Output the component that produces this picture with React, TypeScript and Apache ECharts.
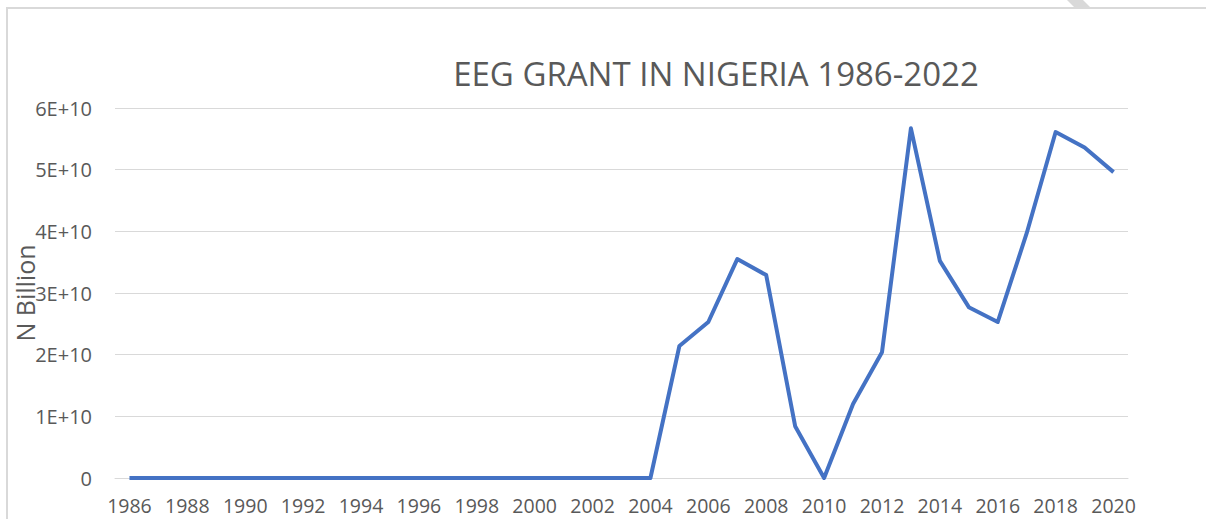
import React, { useEffect, useRef } from "react";
import * as echarts from "echarts";

const years = [
  "1986", "1987", "1988", "1989", "1990", "1991", "1992", "1993", "1994", "1995",
  "1996", "1997", "1998", "1999", "2000", "2001", "2002", "2003", "2004", "2005",
  "2006", "2007", "2008", "2009", "2010", "2011", "2012", "2013", "2014", "2015",
  "2016", "2017", "2018", "2019", "2020",
];

const grantValues = [
  0, 0, 0, 0, 0, 0, 0, 0, 0, 0,
  0, 0, 0, 0, 0, 0, 0, 0, 0, 2.14e10,
  2.53e10, 3.55e10, 3.29e10, 0.84e10, 0, 1.2e10, 2.04e10, 5.67e10, 3.52e10, 2.77e10,
  2.53e10, 3.97e10, 5.61e10, 5.36e10, 4.96e10,
];

const titleText = "EEG GRANT IN NIGERIA 1986-2022";
const yAxisName = "N Billion";

const FONT = "'Open Sans', 'Noto Sans', sans-serif";

export default function App() {
  const ref = useRef<HTMLDivElement>(null);
  useEffect(() => {
    if (!ref.current) return;
    const chart = echarts.init(ref.current, null, { renderer: "svg" });
    chart.setOption({
      animation: false,
      backgroundColor: "#ffffff",
      title: {
        text: titleText,
        left: 711,
        top: 52,
        textAlign: "center",
        textStyle: {
          fontFamily: FONT,
          fontSize: 33,
          fontWeight: "normal",
          color: "#595959",
        },
      },
      grid: {
        left: 115,
        right: 78,
        top: 108,
        bottom: 41,
        containLabel: false,
        outerBoundsMode: "none",
      },
      xAxis: {
        type: "category",
        data: years,
        boundaryGap: true,
        axisTick: { show: false },
        axisLine: { lineStyle: { color: "#d9d9d9", width: 1 } },
        axisLabel: {
          interval: 1,
          color: "#595959",
          fontFamily: FONT,
          fontSize: 19.5,
          lineHeight: 16,
          margin: 19,
        },
      },
      yAxis: {
        type: "value",
        min: 0,
        max: 6e10,
        interval: 1e10,
        name: yAxisName,
        nameLocation: "middle",
        nameRotate: 90,
        nameGap: 78,
        nameMoveOverlap: false,
        nameTextStyle: { fontFamily: FONT, fontSize: 25, color: "#595959" },
        axisLine: { show: false },
        axisTick: { show: false },
        splitLine: { lineStyle: { color: "#d9d9d9", width: 1 } },
        axisLabel: {
          color: "#595959",
          fontFamily: FONT,
          fontSize: 20,
          margin: 23,
          formatter: (v: number) => (v === 0 ? "0" : `${Math.round(v / 1e10)}E+10`),
        },
      },
      series: [
        {
          type: "line",
          data: grantValues,
          showSymbol: false,
          symbol: "none",
          lineStyle: { color: "#4472C4", width: 4, join: "round" },
          itemStyle: { color: "#4472C4" },
        },
      ],
      graphic: [
        {
          type: "rect",
          shape: { x: 7, y: 8, width: 1260, height: 600 },
          style: { fill: "none", stroke: "#d9d9d9", lineWidth: 2 },
          silent: true,
        },
        {
          type: "polygon",
          shape: { points: [[1067, 0], [1083, 0], [1090, 7], [1074, 7]] },
          style: { fill: "#d9d9d9" },
          silent: true,
        },
      ],
    });
    return () => chart.dispose();
  }, []);
  return (
    <div
      ref={ref}
      style={{ position: "fixed", left: 0, top: 0, width: 1206, height: 519 }}
    />
  );
}
